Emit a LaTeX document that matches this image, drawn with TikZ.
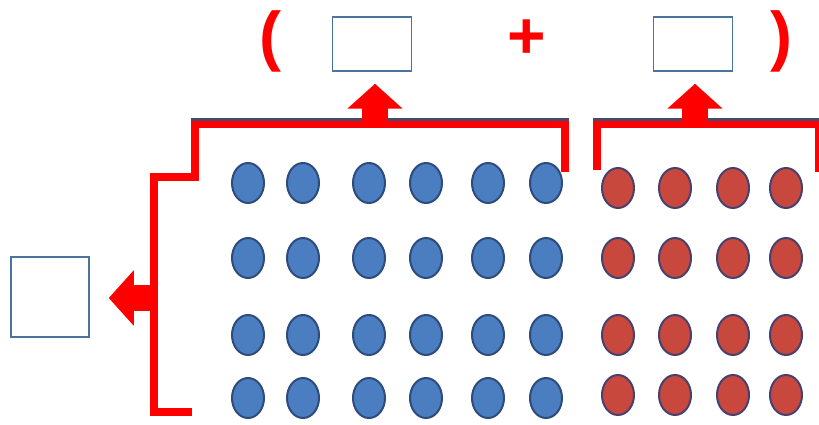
\documentclass[tikz,border=0pt]{standalone}
\usepackage{fontspec}
\setmainfont{Liberation Sans}
\usetikzlibrary{arrows.meta,shapes.geometric}
\definecolor{dotblue}{RGB}{74,126,193}
\definecolor{dotred}{RGB}{200,72,62}
\definecolor{rimblue}{RGB}{45,75,125}
\definecolor{rimred}{RGB}{70,65,110}
\definecolor{boxblue}{RGB}{75,115,155}
\definecolor{baredge}{RGB}{70,75,110}
\newcommand{\signSize}[0]{\fontsize{66}{70}\selectfont}

\begin{document}
\begin{tikzpicture}[x=1pt, y=-1pt]
  \tikzset{answer box/.style={draw=boxblue, line width=1.5pt, inner sep=0pt,
      minimum width=79pt, minimum height=54pt},
    sign/.style={text=red, font=\bfseries\signSize, inner sep=0pt},
    bracket/.style={draw=red, line width=8pt},
    bar edge/.style={draw=baredge, line width=2.5pt},
    block arrow/.style={draw=red, line width=26pt,
      -{Triangle[width=54pt,length=25pt]}},
    dot/.style={ellipse, line width=2pt, inner sep=0pt,
      minimum width=32pt, minimum height=40pt},
    blue dot/.style={dot, draw=rimblue, fill=dotblue},
    red dot/.style={dot, draw=rimred, fill=dotred}}
  \useasboundingbox (0,0) rectangle (819,425);
  \node[sign] (open) at (270,41) {(};
  \node[answer box] (first) at (372,44) {};
  \node[sign] (plus) at (527,39) {+};
  \node[answer box] (second) at (693,44) {};
  \node[sign] (close) at (781,41) {)};
  \node[answer box, minimum width=78pt, minimum height=80pt] (total) at (50,297) {};
  \foreach \x [count=\c] in {248,303,369,426,488,546}
    \foreach \y [count=\r] in {183,258,335,398}
      \node[blue dot] (b\r\c) at (\x,\y) {};
  \foreach \x [count=\c] in {618,675,733,786}
    \foreach \y [count=\r] in {188,258,335,395}
      \node[red dot] (r\r\c) at (\x,\y) {};
  \draw[bracket] (565,172) -- (565,124.5) -- (195,124.5) -- (195,177)
    -- (154,177) -- (154,412) -- (192,412);
  \draw[bracket] (597,170) -- (597,124.5) -- (819,124.5) -- (819,172);
  \draw[bar edge] (191,119.5) -- (569,119.5);
  \draw[bar edge] (593,119.5) -- (819,119.5);
  \coordinate (up1) at (375,124);
  \coordinate (up2) at (695,124);
  \coordinate (left) at (154,298);
  \draw[block arrow, shorten >=12pt] (up1) -- (up1 |- first.south);
  \draw[block arrow, shorten >=12pt] (up2) -- (up2 |- second.south);
  \draw[block arrow, shorten >=19pt] (left) -- (left -| total.east);
\end{tikzpicture}
\end{document}
